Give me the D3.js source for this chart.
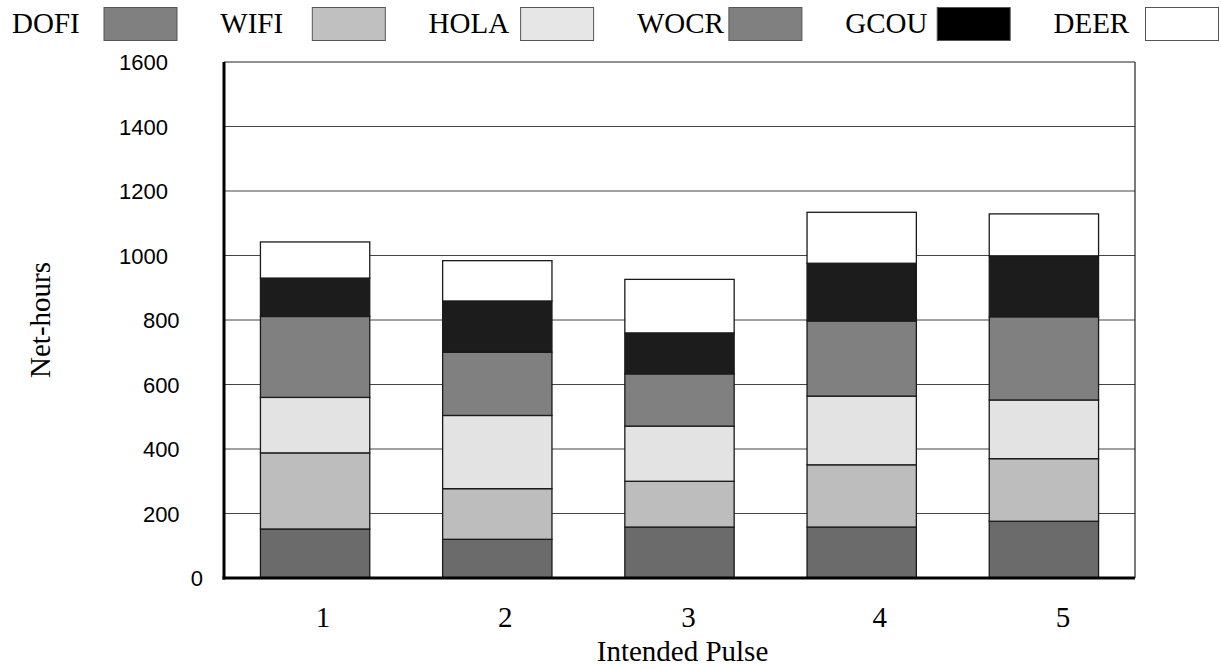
<!DOCTYPE html>
<html>
<head>
<meta charset="utf-8">
<script src="https://cdn.jsdelivr.net/npm/d3@7"></script>
<style>
  html, body { margin: 0; padding: 0; background: #fff; }
  svg { display: block; }
</style>
</head>
<body>
<svg id="chart" width="1221" height="669"></svg>
<script>
// ---- data ----
const categories = ["1", "2", "3", "4", "5"];
const seriesNames = ["DOFI", "WIFI", "HOLA", "WOCR", "GCOU", "DEER"];
const DOFI = [152, 120, 158, 158, 176];
const WIFI = [236, 157, 142, 193, 194];
const HOLA = [172, 227, 171, 213, 182];
const WOCR = [251, 196, 162, 233, 258];
const GCOU = [119, 159, 127, 179, 189];
const DEER = [112, 125, 166, 158, 130];
const yTicks = [0, 200, 400, 600, 800, 1000, 1200, 1400, 1600];

const barColors = ["#6b6b6b", "#bdbdbd", "#e3e3e3", "#808080", "#1c1c1c", "#ffffff"];
const legendColors = ["#808080", "#c0c0c0", "#e6e6e6", "#808080", "#000000", "#ffffff"];

const seriesValues = [DOFI, WIFI, HOLA, WOCR, GCOU, DEER];
const table = categories.map((c, i) => {
  const row = { cat: c };
  seriesNames.forEach((s, j) => row[s] = seriesValues[j][i]);
  return row;
});

// ---- layout ----
const svg = d3.select("#chart");
const mLeft = 224, mRight = 1135, mTop = 62, mBottom = 578;

const x = d3.scaleBand().domain(categories).range([mLeft, mRight])
  .paddingInner(0.4).paddingOuter(0.2);
const y = d3.scaleLinear().domain([0, 1600]).range([mBottom, mTop]);

// gridlines
svg.append("g").selectAll("line").data(yTicks.filter(t => t > 0 && t < 1600)).join("line")
  .attr("x1", mLeft).attr("x2", mRight)
  .attr("y1", d => y(d)).attr("y2", d => y(d))
  .attr("stroke", "#444").attr("stroke-width", 1);

// frame top/right
svg.append("line").attr("x1", mLeft).attr("x2", mRight).attr("y1", y(1600)).attr("y2", y(1600))
  .attr("stroke", "#222").attr("stroke-width", 1.2);
svg.append("line").attr("x1", mRight).attr("x2", mRight).attr("y1", mTop).attr("y2", mBottom)
  .attr("stroke", "#222").attr("stroke-width", 1.2);

// stacked bars
const stack = d3.stack().keys(seriesNames)(table);
const color = d3.scaleOrdinal().domain(seriesNames).range(barColors);
svg.append("g").selectAll("g").data(stack).join("g")
  .attr("fill", d => color(d.key))
  .selectAll("rect").data(d => d).join("rect")
  .attr("x", d => x(d.data.cat))
  .attr("width", x.bandwidth())
  .attr("y", d => y(d[1]))
  .attr("height", d => y(d[0]) - y(d[1]))
  .attr("stroke", "#1a1a1a").attr("stroke-width", 1.3);

// y axis
const yAxis = svg.append("g").attr("transform", `translate(${mLeft},0)`)
  .call(d3.axisLeft(y).tickValues(yTicks).tickFormat(d3.format("d")).tickSize(0).tickPadding(0));
yAxis.select(".domain").remove();
yAxis.selectAll("text")
  .attr("font-family", "Liberation Sans, Arial, sans-serif")
  .attr("font-size", 22).attr("fill", "#000")
  .attr("text-anchor", "end")
  .attr("dy", "0.35em")
  .attr("x", d => -(21 + 11.7 * (String(d).length - 1)));

// thick axis lines
svg.append("line").attr("x1", mLeft).attr("x2", mLeft).attr("y1", mTop).attr("y2", mBottom + 1.5)
  .attr("stroke", "#000").attr("stroke-width", 3);
svg.append("line").attr("x1", mLeft - 1.5).attr("x2", mRight).attr("y1", mBottom).attr("y2", mBottom)
  .attr("stroke", "#000").attr("stroke-width", 3);

// x axis labels
const labelShift = [8, 8, 9, 18, 19];
const xAxis = svg.append("g").attr("transform", `translate(0,${mBottom})`)
  .call(d3.axisBottom(x).tickSize(0).tickPadding(0));
xAxis.select(".domain").remove();
xAxis.selectAll("text")
  .attr("font-family", "Liberation Serif, Times New Roman, serif")
  .attr("font-size", 29).attr("fill", "#000")
  .attr("dy", null).attr("y", 49)
  .attr("x", (d, i) => labelShift[i]);

// axis titles
svg.append("text").attr("x", (mLeft + mRight) / 2 + 3).attr("y", 661)
  .attr("text-anchor", "middle")
  .attr("font-family", "Liberation Serif, Times New Roman, serif")
  .attr("font-size", 29).text("Intended Pulse");
svg.append("text").attr("transform", `translate(50,${(mTop + mBottom) / 2}) rotate(-90)`)
  .attr("text-anchor", "middle")
  .attr("font-family", "Liberation Serif, Times New Roman, serif")
  .attr("font-size", 29).text("Net-hours");

// legend
const legend = svg.append("g").selectAll("g").data(seriesNames).join("g")
  .attr("transform", (d, i) => `translate(${12 + i * 208.3},0)`);
legend.append("text").attr("x", 0).attr("y", 33)
  .attr("font-family", "Liberation Serif, Times New Roman, serif")
  .attr("font-size", 29).text(d => d);
legend.append("rect").attr("x", 92).attr("y", 7.5).attr("width", 73).attr("height", 33)
  .attr("fill", (d, i) => legendColors[i])
  .attr("stroke", "#555").attr("stroke-width", 1);
</script>
</body>
</html>
